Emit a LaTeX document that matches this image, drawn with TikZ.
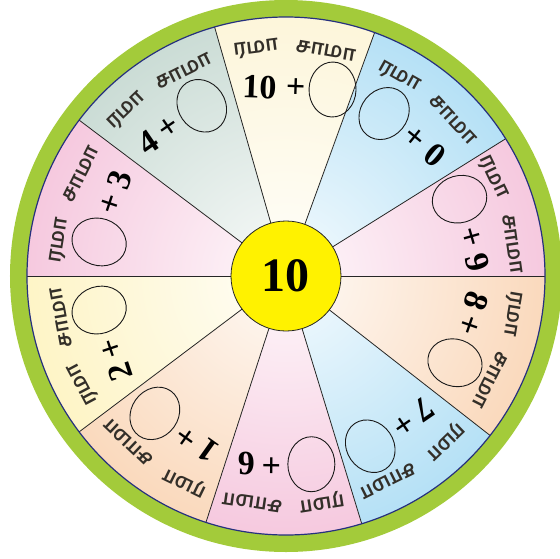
\documentclass[tikz,border=0pt]{standalone}
\usepackage{fontspec}
\setmainfont{Liberation Serif}
\newfontfamily\tamilfont[Script=Tamil]{Hind Madurai}
\usetikzlibrary{calc}
\definecolor{RimGreen}{HTML}{A3CB3A}
\definecolor{RimBlue}{HTML}{26307E}
\definecolor{HubYellow}{HTML}{FFF200}
\definecolor{SecPink}{HTML}{F0A8CB}
\definecolor{SecBlue}{HTML}{88CEF0}
\definecolor{SecCream}{HTML}{FBF0C4}
\definecolor{SecGrey}{HTML}{ABC7BC}
\definecolor{SecYellow}{HTML}{FDEEA4}
\definecolor{SecPeach}{HTML}{F7C294}

\begin{document}
\begin{tikzpicture}[x=1pt, y=1pt,
    spoke/.style={draw=black!85, line width=0.8pt},
    tamil/.style={font=\tamilfont\bfseries\fontsize{21}{21}\selectfont, text=black!85!olive, inner sep=0pt, transform shape},
    numtxt/.style={font=\fontsize{34}{34}\selectfont\bfseries, inner sep=0pt, transform shape},
    oval/.style={draw=black!90, line width=0.9pt}]
    \useasboundingbox (-286,-282) rectangle (274,276);

    % green rim
    \fill[RimGreen] (0,0) circle (276);

    % coloured sectors, white towards the hub
    \foreach \sa/\sb/\col in {0/32/SecPink, 32/70/SecBlue, 70/106/SecCream, 106/143/SecGrey,
        143/180/SecPink, 180/217/SecYellow, 217/252/SecPeach, 252/287/SecPink,
        287/322/SecBlue, 322/360/SecPeach} {
        \begin{scope}
            \clip (0,0) -- (\sa:259) arc[start angle=\sa, end angle=\sb, radius=259] -- cycle;
            \shade[inner color=\col!8!white, outer color=\col] (0,0) circle (440);
        \end{scope}
    }

    % spokes
    \foreach \a in {0,32,70,106,143,180,217,252,287,322}
        \draw[spoke] (\a:55) -- (\a:259);

    % edge of the wheel
    \draw[RimBlue, line width=1.2pt] (0,0) circle (259);

    % hub
    \node[circle, draw=black!85, line width=0.8pt, fill=HubYellow, minimum size=110pt, inner sep=0pt,
        font=\fontsize{48}{48}\selectfont\bfseries] (hub) at (0,0) {10};

    % words, sums and empty ovals
    \foreach \m/\num/\nx/\px/\ox [count=\i] in {16/9/40/13/-26, 51/0/40/13/-26, 88/10/-33/3/40,
        124.5/4/-38/-13/27, 161.5/3/38/13/-27, 198.5/2/-38/-13/27, 234.5/1/-38/-13/27,
        269.5/6/38/13/-27, 304.5/7/-38/-13/27, 341/8/-38/-13/27} {
        \node[tamil, rotate=\m+9.5-90] (ra\i) at (\m+9.5:229) {ரமா};
        \node[tamil, rotate=\m-8-90] (sa\i) at (\m-8:229) {சாமா};
        \begin{scope}[shift={(\m:188)}, rotate=\m-90]
            \node[numtxt] (n\i) at (\nx,0) {\num};
            \node[numtxt] (p\i) at (\px,0) {+};
            \draw[oval] (\ox,0) ellipse (23.5 and 27.5);
        \end{scope}
    }
\end{tikzpicture}
\end{document}
